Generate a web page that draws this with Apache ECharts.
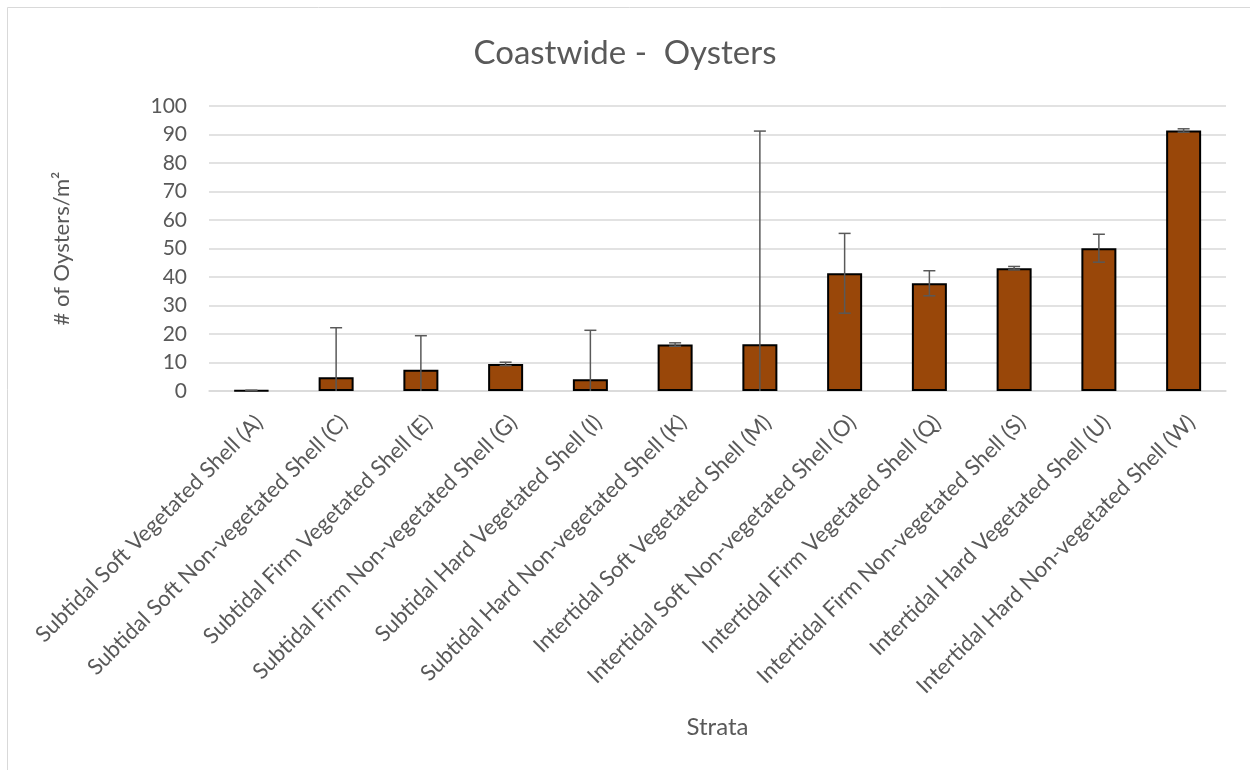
<!DOCTYPE html>
<html>
<head>
    <meta charset="UTF-8">
    <title>Coastwide - Oysters</title>
    <script src="https://cdn.jsdelivr.net/npm/echarts@6/dist/echarts.min.js"></script>
    <style>
        html, body { margin: 0; padding: 0; background: #fff; }
    </style>
</head>
<body>
    <div id="chart" style="width:1250px; height:770px;"></div>
    <script>
        var strata = [
            'Subtidal Soft Vegetated Shell (A)',
            'Subtidal Soft Non-vegetated Shell (C)',
            'Subtidal Firm Vegetated Shell (E)',
            'Subtidal Firm Non-vegetated Shell (G)',
            'Subtidal Hard Vegetated Shell (I)',
            'Subtidal Hard Non-vegetated Shell (K)',
            'Intertidal Soft Vegetated Shell (M)',
            'Intertidal Soft Non-vegetated Shell (O)',
            'Intertidal Firm Vegetated Shell (Q)',
            'Intertidal Firm Non-vegetated Shell (S)',
            'Intertidal Hard Vegetated Shell (U)',
            'Intertidal Hard Non-vegetated Shell (W)'
        ];
        var density = [0.2, 4.8, 7.5, 9.5, 4.1, 16.3, 16.4, 41.3, 37.8, 43.1, 50.1, 91.4];
        var stdErr = [0, 17.4, 11.9, 0.6, 17.2, 0.6, 74.8, 14.0, 4.4, 0.6, 4.9, 0.6];
        var yTicks = [0, 10, 20, 30, 40, 50, 60, 70, 80, 90, 100];

        var textColor = '#595959';
        var font = 'Lato, "Noto Sans", sans-serif';

        // error bars: [index, low, high, value - err]
        var errData = density.map(function (v, i) {
            return [i, Math.max(0, v - stdErr[i]), v + stdErr[i], v - stdErr[i]];
        });

        var chart = echarts.init(document.getElementById('chart'), null, {renderer: 'canvas'});

        chart.setOption({
            backgroundColor: '#fff',
            animation: false,
            title: {
                text: 'Coastwide -  Oysters',
                left: 'center',
                top: 32,
                textStyle: {color: textColor, fontSize: 33, fontWeight: 'normal', fontFamily: font}
            },
            graphic: [{
                type: 'rect',
                shape: {x: 7.5, y: 7.5, width: 1300, height: 800},
                style: {fill: null, stroke: '#d9d9d9', lineWidth: 1},
                silent: true
            }],
            grid: {left: 209, right: 24, top: 106, bottom: 379},
            xAxis: {
                type: 'category',
                data: strata,
                name: 'Strata',
                nameLocation: 'middle',
                nameGap: 324,
                nameTextStyle: {color: textColor, fontSize: 24, fontFamily: font},
                axisLine: {lineStyle: {color: '#d9d9d9', width: 1.5}},
                axisTick: {show: false},
                axisLabel: {
                    interval: 0,
                    rotate: 45,
                    margin: 20,
                    align: 'right',
                    verticalAlign: 'top',
                    color: textColor,
                    fontSize: 22,
                    fontFamily: font
                }
            },
            yAxis: {
                type: 'value',
                min: yTicks[0],
                max: yTicks[yTicks.length - 1],
                interval: yTicks[1] - yTicks[0],
                name: '# of Oysters/m\u00b2',
                nameLocation: 'middle',
                nameGap: 136,
                nameRotate: 90,
                nameTextStyle: {color: textColor, fontSize: 22, fontFamily: font},
                axisLine: {show: false},
                axisTick: {show: false},
                axisLabel: {color: textColor, fontSize: 21, fontFamily: font, margin: 22},
                splitLine: {lineStyle: {color: '#d9d9d9', width: 1.5}}
            },
            series: [{
                type: 'bar',
                data: density,
                barWidth: 35,
                itemStyle: {color: '#994709', borderColor: '#000', borderWidth: 2}
            }, {
                type: 'custom',
                data: errData,
                z: 5,
                renderItem: function (params, api) {
                    var top = api.coord([api.value(0), api.value(2)]);
                    var bot = api.coord([api.value(0), api.value(1)]);
                    var half = 6;
                    var style = {stroke: '#595959', lineWidth: 1.5};
                    var kids = [
                        {type: 'line', shape: {x1: top[0], y1: top[1], x2: bot[0], y2: bot[1]}, style: style},
                        {type: 'line', shape: {x1: top[0] - half, y1: top[1], x2: top[0] + half, y2: top[1]}, style: style}
                    ];
                    if (api.value(3) > 0) {
                        kids.push({type: 'line', shape: {x1: bot[0] - half, y1: bot[1], x2: bot[0] + half, y2: bot[1]}, style: style});
                    }
                    return {type: 'group', children: kids};
                }
            }]
        });
    </script>
</body>
</html>
